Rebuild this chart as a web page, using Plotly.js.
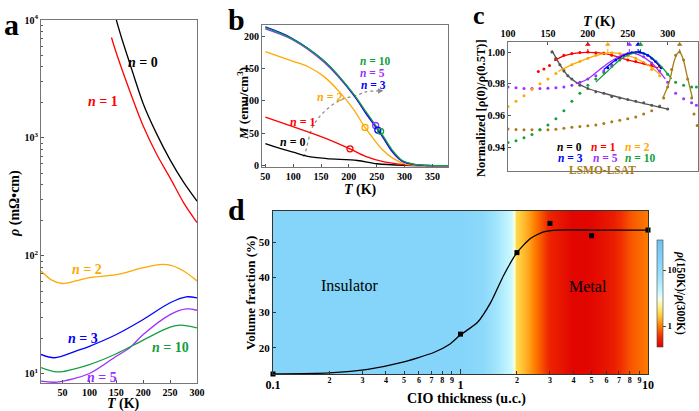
<!DOCTYPE html>
<html>
<head>
<meta charset="utf-8">
<script src="https://cdn.plot.ly/plotly-3.0.1.min.js"></script>
<style>
  html, body { margin: 0; padding: 0; background: #fff; }
  #chart { width: 699px; height: 411px; }
</style>
</head>
<body>
<div id="chart"></div>
<script>
// ---- panel a : resistivity vs temperature (log scale)
const aT0 = [150, 160, 175, 200, 225, 250, 275, 300];
const aR0 = [10000, 7000, 4300, 1950, 1080, 650, 420, 290];
const aT1 = [141, 150, 175, 200, 225, 250, 275, 300];
const aR1 = [7100, 5250, 2500, 1260, 725, 457, 282, 191];
const aT2 = [10, 30, 50, 75, 100, 150, 200, 230, 250, 275, 300];
const aR2 = [74, 62, 58, 61, 65, 69, 79, 84, 83, 74, 61];
const aT3 = [10, 35, 75, 100, 150, 200, 250, 280, 300];
const aR3 = [14.5, 13.6, 15.5, 17, 21.4, 28.7, 39.8, 44.7, 43.8];
const aT5 = [10, 40, 100, 150, 175, 200, 250, 280, 300];
const aR5 = [8.6, 8.45, 10, 14, 16.5, 21.4, 31.6, 35.3, 34.4];
const aT10 = [10, 40, 100, 150, 200, 250, 270, 300];
const aR10 = [11.2, 10.3, 11.9, 14.7, 19.2, 24.7, 25.7, 24.4];

// ---- panel b : magnetisation vs temperature
const bT0 = [50, 75, 100, 126, 160, 215, 250, 300, 378];
const bM0 = [34, 27, 21, 14.5, 11, 8, 3, 0.6, 0];
const bT1 = [50, 97, 156, 202, 230, 260, 290, 315, 378];
const bM1 = [75, 61, 43, 26, 14.5, 6.7, 2.6, 0.6, 0];
const bT2 = [50, 100, 126, 156, 185, 209, 229, 260, 278, 300, 320, 378];
const bM2 = [176, 161, 153, 137, 112, 86, 59, 25, 12, 3, 0.8, 0];
const bThick = [50, 97, 156, 209, 230, 250, 260, 278, 296, 319, 340, 378];
const bM3 = [214, 197, 161, 109, 82, 58, 46, 22, 7, 1.5, 0.3, 0];
const bM5 = [211, 195, 159, 108, 81, 57, 45, 21, 6.5, 1.5, 0.3, 0];
const bM10 = [213, 196, 161, 110, 84, 60, 48, 24, 8, 2, 0.3, 0];
const bCircT = [202, 229, 248, 252, 257];
const bCircM = [26, 59, 62, 55, 53];
const bArrowT = [118, 120.5, 135, 156, 185.5, 215, 230.5, 258];
const bArrowM = [14, 17, 60, 83.5, 101.5, 109, 114, 115.4];

// ---- panel c : normalized magnetoresistance ratio
const cT0 = [155, 160, 165, 170, 175, 180, 190, 200, 210, 220, 230, 240, 250, 260, 270, 280, 290, 300];
const cV0 = [1.0, 0.996, 0.992, 0.988, 0.985, 0.983, 0.979, 0.977, 0.975, 0.974, 0.972, 0.971, 0.970, 0.969, 0.968, 0.9665, 0.9655, 0.964];
const cLT0 = [155, 165, 175, 185, 200, 220, 250, 275, 300];
const cLV0 = [1.001, 0.992, 0.985, 0.981, 0.977, 0.974, 0.970, 0.967, 0.964];
const cT1 = [138, 145, 152, 160, 170, 180, 190, 200, 210, 220, 230, 240, 250, 260, 270, 280, 290];
const cV1 = [0.9877, 0.9893, 0.9915, 0.9955, 0.998, 0.999, 0.9997, 1.0, 0.9996, 0.999, 0.998, 0.9965, 0.995, 0.994, 0.993, 0.992, 0.991];
const cLT1 = [158, 170, 185, 200, 215, 230, 250, 270, 288];
const cLV1 = [0.9945, 0.9975, 0.9993, 0.9998, 0.9994, 0.998, 0.995, 0.9925, 0.990];
const cT2 = [100, 110, 120, 130, 140, 150, 160, 170, 180, 190, 200, 210, 220, 230, 240, 250, 260, 270, 280, 290];
const cV2 = [0.9657, 0.969, 0.9725, 0.9763, 0.980, 0.983, 0.9865, 0.989, 0.992, 0.994, 0.996, 0.998, 0.9995, 0.9995, 0.999, 0.9975, 0.996, 0.993, 0.989, 0.985];
const cLT2 = [163, 180, 200, 212, 225, 240, 255, 275, 290];
const cLV2 = [0.9877, 0.992, 0.996, 0.998, 0.9995, 0.999, 0.997, 0.992, 0.986];
const cT3 = [225, 235, 245, 255, 265, 275, 285, 292];
const cV3 = [0.990, 0.995, 0.998, 0.9995, 1.0, 0.998, 0.994, 0.990];
const cLT3 = [220, 235, 250, 263, 275, 290];
const cLV3 = [0.989, 0.995, 0.999, 1.0, 0.998, 0.991];
const cT5 = [100, 110, 120, 130, 140, 150, 160, 170, 180, 190, 200, 210, 220, 230, 240, 250, 260, 270, 280, 290, 300, 310, 320, 330, 336];
const cV5 = [0.978, 0.9775, 0.977, 0.977, 0.977, 0.9772, 0.9775, 0.978, 0.979, 0.981, 0.983, 0.985, 0.988, 0.992, 0.996, 0.999, 0.9995, 0.997, 0.993, 0.988, 0.981, 0.974, 0.9705, 0.968, 0.9665];
const cLT5 = [185, 200, 215, 230, 245, 255, 265, 280, 297];
const cLV5 = [0.980, 0.983, 0.989, 0.9945, 0.9985, 0.9995, 0.998, 0.993, 0.983];
const cT10 = [100, 110, 120, 130, 140, 150, 160, 170, 180, 190, 200, 210, 220, 230, 240, 250, 260, 270, 280, 290, 300, 310, 320, 330, 336];
const cV10 = [0.943, 0.944, 0.946, 0.948, 0.951, 0.954, 0.958, 0.963, 0.969, 0.974, 0.979, 0.983, 0.987, 0.991, 0.995, 0.998, 0.9995, 0.999, 0.996, 0.991, 0.986, 0.981, 0.979, 0.978, 0.978];
const cLT10 = [210, 225, 240, 255, 265, 275, 290, 305];
const cLV10 = [0.981, 0.988, 0.995, 0.999, 0.9995, 0.998, 0.992, 0.983];
const cTL = [100, 110, 120, 130, 140, 150, 160, 170, 180, 190, 200, 210, 220, 230, 240, 250, 260, 270, 280, 290, 295, 300, 305, 310, 315, 320, 325, 330, 333, 337];
const cVL = [0.9515, 0.9512, 0.951, 0.951, 0.951, 0.951, 0.9513, 0.952, 0.9525, 0.953, 0.9535, 0.954, 0.955, 0.956, 0.957, 0.958, 0.959, 0.961, 0.963, 0.966, 0.971, 0.978, 0.989, 0.998, 1.0, 0.995, 0.983, 0.971, 0.961, 0.9536];
const cLTL = [294, 302, 308, 312, 315, 319, 325, 331];
const cLVL = [0.971, 0.981, 0.994, 0.999, 1.0, 0.996, 0.9835, 0.971];
const cPeakT = [200, 225, 252, 263, 266, 315];

// ---- panel d : volume fraction vs CIO thickness
const dThick = [0.1, 1, 2, 3, 5, 10];
const dFrac = [12.6, 23.9, 47.0, 55.3, 51.8, 53.4];
const dFitT = [0.1, 0.2, 0.32, 0.48, 0.72, 0.88, 1, 1.23, 1.45, 1.7, 2, 2.36, 2.78, 3.3, 5, 10];
const dFitV = [12.6, 12.9, 13.9, 15.8, 18.7, 21.1, 23.7, 27.2, 32.9, 40.6, 47.0, 51.0, 52.9, 53.4, 53.4, 53.4];
const bgThickness = [0.1, 1, 1.3, 1.6, 1.85, 1.92, 1.97, 2.3, 2.7, 3, 4, 5, 6.5, 8, 10];
const bgRatio = [14, 14, 12, 6.5, 4, 3, 1.7, 1.25, 0.8, 0.58, 0.44, 0.45, 0.55, 0.8, 1.0];
const dMinorLabels = ['2', '3', '4', '5', '6', '7', '8', '9'];

const RED = '#ff0000', ORANGE = '#ffa800', BLUE = '#0000ff', PURPLE = '#9b30ff', GREEN = '#12a03c', BLACK = '#000000', BROWN = '#a67c1a', GRAY = '#555555';
const SERIF = 'Liberation Serif, Times New Roman, serif';
const W = 699, H = 411;
function px(x) { return x / W; }
function py(y) { return 1 - y / H; }

function line(x, y, color, xa, ya, extra) {
  return Object.assign({ type: 'scatter', mode: 'lines', x: x, y: y, xaxis: xa, yaxis: ya,
    line: { color: color, width: 1.3, shape: 'spline', smoothing: 0.9 }, hoverinfo: 'skip' }, extra || {});
}
function dots(x, y, color) {
  return { type: 'scatter', mode: 'markers', x: x, y: y, xaxis: 'x3', yaxis: 'y3',
    marker: { color: color, size: 3 }, hoverinfo: 'skip' };
}

const traces = [];
// a
traces.push(line(aT0, aR0, BLACK, 'x', 'y'));
traces.push(line(aT1, aR1, RED, 'x', 'y'));
traces.push(line(aT2, aR2, ORANGE, 'x', 'y'));
traces.push(line(aT3, aR3, BLUE, 'x', 'y'));
traces.push(line(aT5, aR5, PURPLE, 'x', 'y'));
traces.push(line(aT10, aR10, GREEN, 'x', 'y'));
// b
traces.push(line(bArrowT, bArrowM, '#8a8a8a', 'x2', 'y2', { line: { color: '#8a8a8a', width: 1.2, dash: 'dot', shape: 'spline' } }));
traces.push(line(bT0, bM0, BLACK, 'x2', 'y2'));
traces.push(line(bT1, bM1, RED, 'x2', 'y2'));
traces.push(line(bT2, bM2, ORANGE, 'x2', 'y2'));
traces.push(line(bThick, bM5, PURPLE, 'x2', 'y2'));
traces.push(line(bThick, bM3, BLUE, 'x2', 'y2'));
traces.push(line(bThick, bM10, GREEN, 'x2', 'y2'));
traces.push({ type: 'scatter', mode: 'markers', x: bCircT, y: bCircM, xaxis: 'x2', yaxis: 'y2',
  marker: { symbol: 'circle-open', size: 6, color: [RED, ORANGE, PURPLE, BLUE, GREEN], line: { width: 1.3 } }, hoverinfo: 'skip' });
// c
const peakColors = [RED, ORANGE, PURPLE, BLUE, GREEN, BROWN];
cPeakT.forEach(function (t, i) {
  traces.push({ type: 'scatter', mode: 'lines', x: [t, t], y: [1.0, 1.0048], xaxis: 'x3', yaxis: 'y3',
    line: { color: peakColors[i], width: 1, dash: 'dot' }, hoverinfo: 'skip' });
});
traces.push({ type: 'scatter', mode: 'markers', x: cPeakT, y: cPeakT.map(function () { return 1.0048; }), xaxis: 'x3', yaxis: 'y3',
  marker: { symbol: 'triangle-up', size: 5, color: peakColors }, hoverinfo: 'skip' });
traces.push(dots(cTL, cVL, BROWN));
traces.push(dots(cT10, cV10, GREEN));
traces.push(dots(cT5, cV5, PURPLE));
traces.push(dots(cT2, cV2, ORANGE));
traces.push(dots(cT1, cV1, RED));
traces.push(dots(cT3, cV3, BLUE));
traces.push(dots(cT0, cV0, GRAY));
traces.push(line(cLT0, cLV0, GRAY, 'x3', 'y3'));
traces.push(line(cLT1, cLV1, RED, 'x3', 'y3'));
traces.push(line(cLT2, cLV2, ORANGE, 'x3', 'y3'));
traces.push(line(cLT5, cLV5, PURPLE, 'x3', 'y3'));
traces.push(line(cLT10, cLV10, GREEN, 'x3', 'y3'));
traces.push(line(cLT3, cLV3, BLUE, 'x3', 'y3'));
traces.push(line(cLTL, cLVL, BROWN, 'x3', 'y3'));
// d
const logRatio = bgRatio.map(Math.log10);
traces.push({ type: 'heatmap', x: bgThickness.map(Math.log10), y: [0, 1], z: [logRatio, logRatio],
  xaxis: 'x4', yaxis: 'y4', zsmooth: 'best', zmin: -0.375, zmax: 1.54, hoverinfo: 'skip',
  colorscale: [[0, '#e00000'], [0.1, '#f03000'], [0.2, '#ff8000'], [0.3, '#ffd040'], [0.38, '#fff090'],
    [0.45, '#f4ffe8'], [0.52, '#c8f8ff'], [0.65, '#a0e4fc'], [0.8, '#84d4fa'], [1, '#6cc4f0']],
  colorbar: { x: px(657), xanchor: 'left', y: py(293.5), yanchor: 'middle', len: 107 / H, lenmode: 'fraction',
    thickness: 6, thicknessmode: 'pixels', xpad: 0, ypad: 0, outlinewidth: 0.6, outlinecolor: '#444',
    tickvals: [0, 1], ticktext: ['1', '10'], ticks: 'outside', ticklen: 3,
    tickfont: { family: SERIF, size: 9, weight: 'bold', color: '#000' } } });
traces.push(line(dFitT, dFitV, BLACK, 'x5', 'y5', { line: { color: '#000', width: 1.3, shape: 'spline', smoothing: 0.6 } }));
traces.push({ type: 'scatter', mode: 'markers', x: dThick, y: dFrac, xaxis: 'x5', yaxis: 'y5',
  marker: { symbol: 'square', size: 5, color: '#000' }, cliponaxis: false, hoverinfo: 'skip' });
traces.push({ type: 'scatter', mode: 'markers', x: [], y: [], xaxis: 'x6', yaxis: 'y5' });

// ticks
const minorA = [];
[10, 100, 1000].forEach(function (d) { for (let k = 2; k <= 9; k++) minorA.push(d * k); });
const minorD = [], minorDText = [];
[0.1, 1].forEach(function (d) {
  for (let k = 2; k <= 9; k++) { minorD.push(+(d * k).toFixed(2)); minorDText.push(dMinorLabels[k - 2]); }
});

const tf = function (s) { return { family: SERIF, size: s, weight: 'bold', color: '#000' }; };
const frame = { showline: true, mirror: true, linecolor: '#777', linewidth: 1, showgrid: false, zeroline: false,
  ticks: 'inside', ticklen: 3, tickcolor: '#555' };

const layout = {
  width: W, height: H, margin: { l: 0, r: 0, t: 0, b: 0 }, paper_bgcolor: '#fff', plot_bgcolor: 'rgba(0,0,0,0)',
  showlegend: false, font: { family: SERIF },
  xaxis: Object.assign({}, frame, { domain: [px(41), px(197)], anchor: 'y', range: [10, 300],
    tickvals: [50, 100, 150, 200, 250, 300], tickfont: tf(10) }),
  yaxis: Object.assign({}, frame, { domain: [py(383), py(20)], anchor: 'x', type: 'log', range: [Math.log10(8.3), 4],
    tickvals: [10, 100, 1000, 10000], ticktext: ['10<sup>1</sup>', '10<sup>2</sup>', '10<sup>3</sup>', '10<sup>4</sup>'],
    tickfont: tf(10), minor: { tickvals: minorA, ticks: 'inside', ticklen: 2, tickcolor: '#555' } }),
  xaxis2: Object.assign({}, frame, { domain: [px(262), px(448)], anchor: 'y2', range: [44, 378],
    tick0: 0, dtick: 50, tickfont: tf(10) }),
  yaxis2: Object.assign({}, frame, { domain: [py(167), py(25)], anchor: 'x2', range: [-2, 217],
    tick0: 0, dtick: 50, tickfont: tf(10) }),
  xaxis3: Object.assign({}, frame, { domain: [px(508), px(698)], anchor: 'y3', side: 'top', range: [100, 338],
    tick0: 0, dtick: 50, tickfont: tf(10) }),
  yaxis3: Object.assign({}, frame, { domain: [py(171), py(42)], anchor: 'x3', range: [0.925, 1.0063],
    tickvals: [0.94, 0.96, 0.98, 1.0], tickformat: '.2f', tickfont: tf(10) }),
  xaxis4: { domain: [px(273), px(648)], anchor: 'y4', range: [-1, 1], visible: false, fixedrange: true },
  yaxis4: { domain: [py(374), py(211)], anchor: 'x4', range: [0, 1], visible: false, fixedrange: true },
  xaxis5: Object.assign({}, frame, { overlaying: 'x4', anchor: 'y5', type: 'log', range: [-1, 1],
    tickvals: [0.1, 1, 10], ticktext: ['0.1', '1', '10'], ticklen: 5, linecolor: '#333', tickcolor: '#333', tickfont: tf(12) }),
  yaxis5: Object.assign({}, frame, { overlaying: 'y4', anchor: 'x5', range: [12.6, 58.8],
    tickvals: [20, 30, 40, 50], linecolor: '#333', tickcolor: '#333', tickfont: tf(11) }),
  xaxis6: { overlaying: 'x4', anchor: 'y5', type: 'log', range: [-1, 1], tickvals: minorD, ticktext: minorDText,
    ticks: 'inside', ticklen: 3, tickcolor: '#333', showline: false, showgrid: false, zeroline: false, tickfont: tf(8) },
  annotations: []
};

function note(text, x, y, color, size, extra) {
  layout.annotations.push(Object.assign({ text: text, x: px(x), y: py(y), xref: 'paper', yref: 'paper',
    showarrow: false, xanchor: 'center', yanchor: 'middle',
    font: { family: SERIF, size: size, color: color, weight: 'bold' } }, extra || {}));
}
// panel letters
note('a', 11, 24, '#000', 30);
note('b', 236, 19, '#000', 30);
note('c', 479, 16, '#000', 26);
note('d', 236, 209, '#000', 30);
// panel a
note('<i>ρ</i> (mΩ•cm)', 15, 204, '#000', 14, { textangle: -90 });
note('<i>T</i> (K)', 123, 404, '#000', 14);
note('<i>n</i> = 0', 143, 62, BLACK, 14);
note('<i>n</i> = 1', 103, 101, RED, 14);
note('<i>n</i> = 2', 87, 269, ORANGE, 14);
note('<i>n</i> = 3', 83, 338, BLUE, 14);
note('<i>n</i> = 10', 170, 347, GREEN, 14);
note('<i>n</i> = 5', 102, 377, PURPLE, 14);
// panel b
note('<i>M</i> (emu/cm<sup>3</sup>)', 243, 103, '#000', 13, { textangle: -90 });
note('<i>T</i> (K)', 360, 190, '#000', 14);
note('<i>n</i> = 10', 375, 61, GREEN, 11.5);
note('<i>n</i> = 5', 372, 73, PURPLE, 11.5);
note('<i>n</i> = 3', 373, 85, BLUE, 11.5);
note('<i>n</i> = 2', 330, 97, ORANGE, 12);
note('<i>n</i> = 1', 303, 122, RED, 12);
note('<i>n</i> = 0', 293, 142, BLACK, 12);
layout.annotations.push({ x: 262, y: 115.6, ax: 250, ay: 115.3, xref: 'x2', yref: 'y2', axref: 'x2', ayref: 'y2',
  text: '', showarrow: true, arrowhead: 2, arrowsize: 1, arrowwidth: 1.1, arrowcolor: '#8a8a8a' });
// panel c
note('<i>T</i> (K)', 599, 22, '#000', 14);
note('Normalized [ρ(0)/ρ(0.5T)]', 481, 108, '#000', 12.5, { textangle: -90 });
note('<i>n</i> = 0', 569, 147, BLACK, 11.5);
note('<i>n</i> = 1', 603, 147, RED, 11.5);
note('<i>n</i> = 2', 637, 147, ORANGE, 11.5);
note('<i>n</i> = 3', 570, 158, BLUE, 11.5);
note('<i>n</i> = 5', 605, 158, PURPLE, 11.5);
note('<i>n</i> = 10', 640, 158, GREEN, 11.5);
note('LSMO-LSAT', 602, 169.5, BROWN, 11.5);
// panel d
note('Volume fraction (%)', 250, 293, '#000', 13, { textangle: -90 });
note('CIO thickness (u.c.)', 466, 399, '#000', 14);
note('Insulator', 350, 285, '#000', 16, { font: { family: SERIF, size: 16, color: '#000' } });
note('Metal', 588, 286, '#000', 16, { font: { family: SERIF, size: 16, color: '#000' } });
note('<i>ρ</i>(150K)/<i>ρ</i>(300K)', 681, 293, '#000', 11.5, { textangle: 90 });

Plotly.newPlot('chart', traces, layout, { staticPlot: true });
</script>
</body>
</html>
